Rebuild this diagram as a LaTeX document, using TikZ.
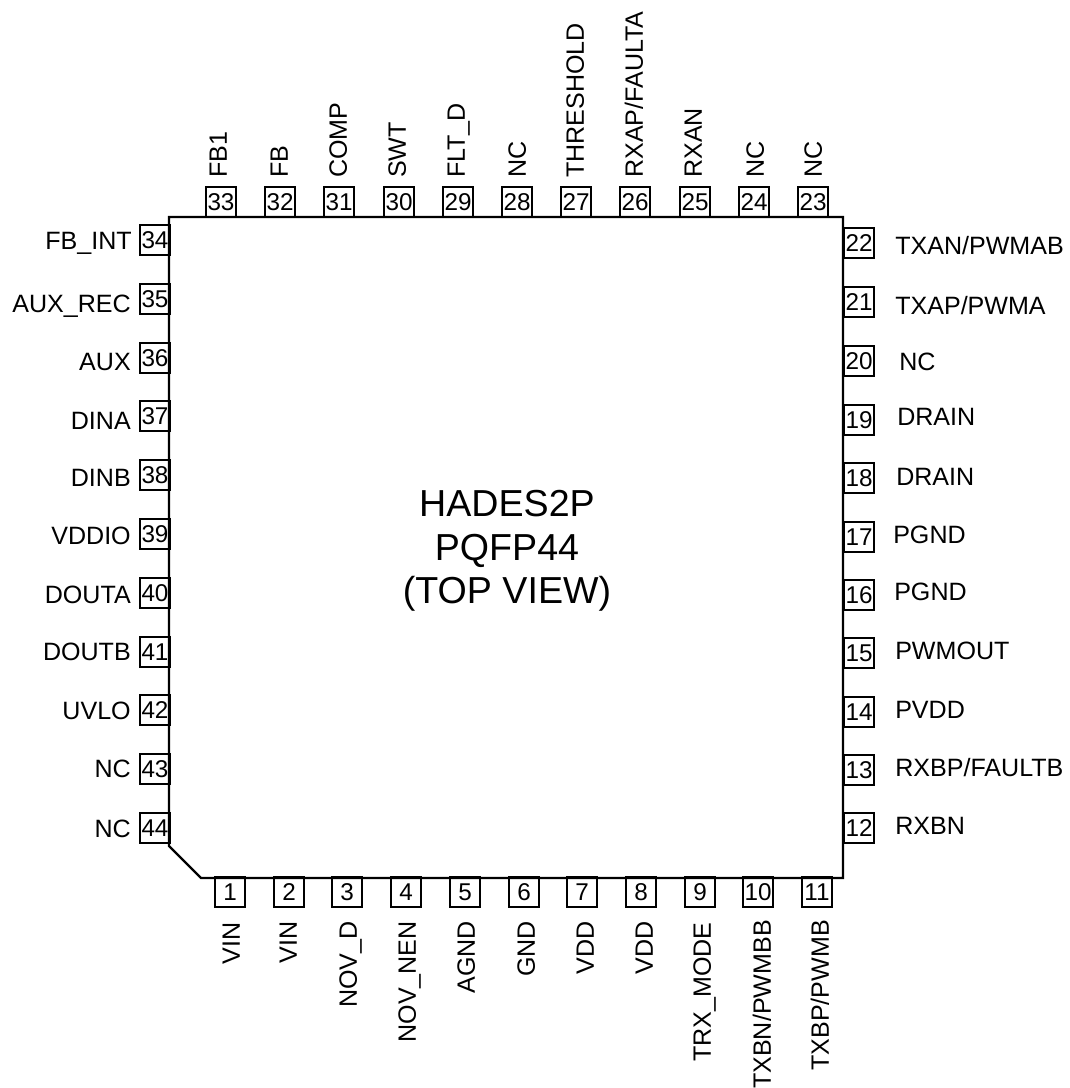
\documentclass[tikz,border=0pt]{standalone}
\usepackage{fontspec}
\setmainfont{Liberation Sans}
\usepackage{tikz}
\tikzset{pinbox/.style={rectangle,draw,line width=1.6pt,minimum size=22.5pt,inner sep=0pt,font=\fontsize{18.2pt}{20pt}\selectfont}}
\tikzset{pinlab/.style={inner sep=0pt,text height=13.4pt,text depth=0pt,font=\fontsize{18.8pt}{20pt}\selectfont}}
\tikzset{leftlab/.style={pinlab,anchor=east}}
\tikzset{rightlab/.style={pinlab,anchor=west}}
\tikzset{toplab/.style={pinlab,rotate=90,anchor=west}}
\tikzset{botlab/.style={pinlab,rotate=90,anchor=east}}

\begin{document}
\begin{tikzpicture}[x=0.75pt,y=-0.75pt]
        \useasboundingbox (0,0) rectangle (1070,1088);

        \draw[line width=1.7pt] (169,217) -- (843,217) -- (843,878) -- (201,878) -- (169,846) -- cycle;
        \node[align=center,font=\fontsize{28.2pt}{32.8pt}\selectfont] (title) at (507,551) {HADES2P\\PQFP44\\(TOP VIEW)};

        \node[pinbox] (p1) at (230,892) {1};
        \node[pinbox] (p2) at (289,892) {2};
        \node[pinbox] (p3) at (347,892) {3};
        \node[pinbox] (p4) at (406,892) {4};
        \node[pinbox] (p5) at (465,892) {5};
        \node[pinbox] (p6) at (524,892) {6};
        \node[pinbox] (p7) at (582,892) {7};
        \node[pinbox] (p8) at (641,892) {8};
        \node[pinbox] (p9) at (700,892) {9};
        \node[pinbox] (p10) at (758,892) {10};
        \node[pinbox] (p11) at (817,892) {11};

        \node[pinbox] (p12) at (859,828) {12};
        \node[pinbox] (p13) at (859,770) {13};
        \node[pinbox] (p14) at (859,712) {14};
        \node[pinbox] (p15) at (859,653) {15};
        \node[pinbox] (p16) at (859,595) {16};
        \node[pinbox] (p17) at (859,537) {17};
        \node[pinbox] (p18) at (859,478) {18};
        \node[pinbox] (p19) at (859,420) {19};
        \node[pinbox] (p20) at (859,361) {20};
        \node[pinbox] (p21) at (859,302) {21};
        \node[pinbox] (p22) at (859,243) {22};

        \node[pinbox] (p23) at (813,202) {23};
        \node[pinbox] (p24) at (754,202) {24};
        \node[pinbox] (p25) at (695,202) {25};
        \node[pinbox] (p26) at (635,202) {26};
        \node[pinbox] (p27) at (576,202) {27};
        \node[pinbox] (p28) at (517,202) {28};
        \node[pinbox] (p29) at (458,202) {29};
        \node[pinbox] (p30) at (399,202) {30};
        \node[pinbox] (p31) at (339,202) {31};
        \node[pinbox] (p32) at (280,202) {32};
        \node[pinbox] (p33) at (221,202) {33};

        \node[pinbox] (p34) at (155,240) {34};
        \node[pinbox] (p35) at (155,299) {35};
        \node[pinbox] (p36) at (155,358) {36};
        \node[pinbox] (p37) at (155,416) {37};
        \node[pinbox] (p38) at (155,475) {38};
        \node[pinbox] (p39) at (155,534) {39};
        \node[pinbox] (p40) at (155,593) {40};
        \node[pinbox] (p41) at (155,652) {41};
        \node[pinbox] (p42) at (155,710) {42};
        \node[pinbox] (p43) at (155,769) {43};
        \node[pinbox] (p44) at (155,828) {44};

        \node[botlab] (l1) at (231,922) {VIN};
        \node[botlab] (l2) at (288,921) {VIN};
        \node[botlab] (l3) at (348,921) {NOV\_D};
        \node[botlab] (l4) at (407,921) {NOV\_NEN};
        \node[botlab] (l5) at (466,921) {AGND};
        \node[botlab] (l6) at (526,921) {GND};
        \node[botlab] (l7) at (585,921) {VDD};
        \node[botlab] (l8) at (644,921) {VDD};
        \node[botlab] (l9) at (702,922) {TRX\_MODE};
        \node[botlab] (l10) at (762,920) {TXBN/PWMBB};
        \node[botlab] (l11) at (820,920) {TXBP/PWMB};

        \node[rightlab] (l12) at (895,826) {RXBN};
        \node[rightlab] (l13) at (895,768) {RXBP/FAULTB};
        \node[rightlab] (l14) at (895,710) {PVDD};
        \node[rightlab] (l15) at (895,651) {PWMOUT};
        \node[rightlab] (l16) at (894,592) {PGND};
        \node[rightlab] (l17) at (893,535) {PGND};
        \node[rightlab] (l18) at (896,477) {DRAIN};
        \node[rightlab] (l19) at (897,417) {DRAIN};
        \node[rightlab] (l20) at (899,362) {NC};
        \node[rightlab] (l21) at (895,306) {TXAP/PWMA};
        \node[rightlab] (l22) at (895,246) {TXAN/PWMAB};

        \node[toplab] (l23) at (813,178) {NC};
        \node[toplab] (l24) at (755,178) {NC};
        \node[toplab] (l25) at (693,178) {RXAN};
        \node[toplab] (l26) at (634,178) {RXAP/FAULTA};
        \node[toplab] (l27) at (575,178) {THRESHOLD};
        \node[toplab] (l28) at (517,178) {NC};
        \node[toplab] (l29) at (456,178) {FLT\_D};
        \node[toplab] (l30) at (397,178) {SWT};
        \node[toplab] (l31) at (338,178) {COMP};
        \node[toplab] (l32) at (279,178) {FB};
        \node[toplab] (l33) at (218,178) {FB1};

        \node[leftlab] (l34) at (132,241) {FB\_INT};
        \node[leftlab] (l35) at (131,304) {AUX\_REC};
        \node[leftlab] (l36) at (131,362) {AUX};
        \node[leftlab] (l37) at (131,421) {DINA};
        \node[leftlab] (l38) at (131,478) {DINB};
        \node[leftlab] (l39) at (131,536) {VDDIO};
        \node[leftlab] (l40) at (131,595) {DOUTA};
        \node[leftlab] (l41) at (131,652) {DOUTB};
        \node[leftlab] (l42) at (131,711) {UVLO};
        \node[leftlab] (l43) at (131,769) {NC};
        \node[leftlab] (l44) at (131,829) {NC};
    \end{tikzpicture}
\end{document}
